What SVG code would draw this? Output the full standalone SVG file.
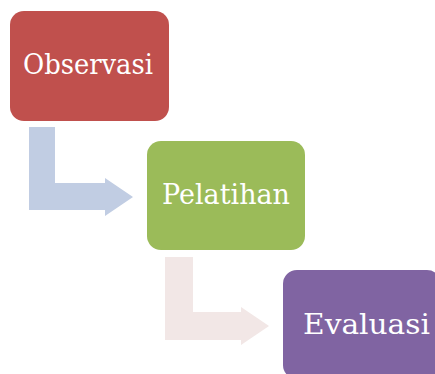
<svg xmlns="http://www.w3.org/2000/svg" width="435" height="374" viewBox="0 0 435 374">
<style>
.lbl{font-family:"DejaVu Serif","Liberation Serif",serif;font-size:27px;fill:#ffffff;text-anchor:middle}
</style>
<rect width="435" height="374" fill="#ffffff"/>
<g id="connectors">
<path d="M29,127 H55 V183 H105 V178 L133,197 L105,216 V210 H29 Z" fill="#C1CDE3"/>
<path d="M165,257 H193 V312 H241 V307 L269,326 L241,345 V340 H165 Z" fill="#F2E7E6"/>
</g>
<g id="observasi">
<rect x="10" y="11" width="159" height="110" rx="14" fill="#C0504D"/>
<text class="lbl" x="88" y="74" textLength="130" lengthAdjust="spacingAndGlyphs">Observasi</text>
</g>
<g id="pelatihan">
<rect x="147" y="141" width="158" height="109" rx="14" fill="#9BBB59"/>
<text class="lbl" x="226" y="204" textLength="128" lengthAdjust="spacingAndGlyphs">Pelatihan</text>
</g>
<g id="evaluasi">
<rect x="283" y="270" width="158" height="109" rx="14" fill="#8064A2"/>
<text class="lbl" x="366.5" y="334" textLength="127" lengthAdjust="spacingAndGlyphs">Evaluasi</text>
</g>
</svg>
